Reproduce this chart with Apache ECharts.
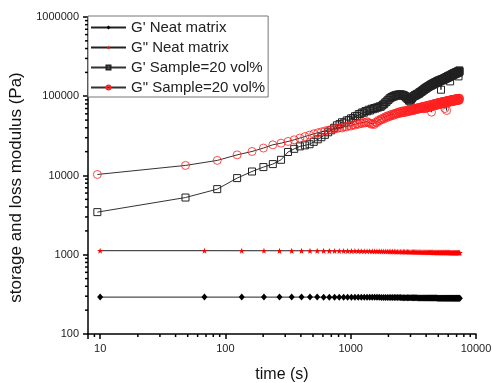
<!DOCTYPE html>
<html><head><meta charset="utf-8">
<script src="https://cdn.jsdelivr.net/npm/echarts@6/dist/echarts.min.js"></script>
<style>html,body{margin:0;padding:0;background:#fff}#c{width:493px;height:383px}</style>
</head><body><div id="c"></div>
<script>
const seriesNames = ["G' Neat matrix", 'G" Neat matrix', "G' Sample=20 vol%", 'G" Sample=20 vol%'];

const neatTime = [10,68,135,203,270,338,405,473,540,608,675,743,810,878,945,1013,1080,1148,1215,1283,1350,1418,1485,1553,1620,1688,1755,1823,1890,1958,2025,2093,2160,2228,2295,2363,2430,2498,2565,2633,2700,2768,2835,2903,2970,3038,3105,3173,3240,3308,3375,3443,3510,3578,3645,3713,3780,3848,3915,3983,4050,4118,4185,4253,4320,4388,4455,4523,4590,4658,4725,4793,4860,4928,4995,5063,5130,5198,5265,5333,5400,5468,5535,5603,5670,5738,5805,5873,5940,6008,6075,6143,6210,6278,6345,6413,6480,6548,6615,6683,6750,6818,6885,6953,7020,7088,7155,7223,7290,7358,7425];

const neatGp = [292,292,292,292,292,292,292,292,292,291,291,291,291,291,291,291,291,291,291,290,
290,290,290,290,290,290,289,289,289,289,289,289,288,288,288,288,288,288,287,287,
287,287,287,287,286,286,286,286,286,286,286,285,285,285,285,285,285,285,285,285,
284,284,284,284,284,284,284,284,284,284,284,284,284,283,283,283,283,283,283,283,
283,283,283,283,283,283,283,283,282,282,282,282,282,282,282,282,282,282,282,282,
282,282,282,282,282,282,282,282,282,282,282];

const neatGpp = [1125,1125,1124,1124,1123,1123,1122,1122,1121,1120,1119,1118,1117,1116,1115,1114,1113,1112,1111,1110,
1109,1108,1107,1106,1105,1104,1103,1102,1101,1100,1099,1098,1097,1096,1095,1094,1093,1092,1091,1090,
1089,1088,1088,1087,1086,1085,1085,1084,1083,1082,1082,1081,1080,1080,1079,1078,1078,1077,1076,1076,
1075,1075,1074,1074,1073,1073,1072,1072,1071,1071,1070,1070,1070,1069,1069,1068,1068,1068,1067,1067,
1067,1066,1066,1066,1065,1065,1065,1065,1064,1064,1064,1064,1063,1063,1063,1063,1063,1062,1062,1062,
1062,1062,1062,1062,1062,1062,1062,1062,1062,1062,1062];

const sampleTime = [9.5,48,86,124,163,201,239,278,316,354,393,431,469,507,546,584,622,661,699,737,
776,814,852,890,929,967,1005,1044,1082,1120,1159,1197,1235,1273,1312,1350,1388,1427,1465,1503,
1542,1580,1618,1656,1695,1733,1771,1810,1848,1886,1925,1963,2001,2039,2078,2116,2154,2193,2231,2269,
2308,2346,2384,2422,2461,2499,2537,2576,2614,2652,2691,2729,2767,2805,2844,2882,2920,2959,2997,3035,
3074,3112,3150,3188,3227,3265,3303,3342,3380,3418,3457,3495,3533,3571,3610,3648,3686,3725,3763,3801,
3840,3878,3916,3954,3993,4031,4069,4108,4146,4184,4223,4261,4299,4337,4376,4414,4452,4491,4529,4567,
4606,4644,4682,4720,4759,4797,4835,4874,4912,4950,4989,5027,5065,5103,5142,5180,5218,5257,5295,5333,
5372,5410,5448,5486,5525,5563,5601,5640,5678,5716,5755,5793,5831,5869,5908,5946,5984,6023,6061,6099,
6138,6176,6214,6252,6291,6329,6367,6406,6444,6482,6521,6559,6597,6635,6674,6712,6750,6789,6827,6865,
6904,6942,6980,7018,7057,7095,7133,7172,7210,7248,7287,7325,7363,7401];

const sampleGp = [3450,5270,6730,9270,11230,12770,13930,15780,19800,21700,23300,24000,24800,26600,28600,30400,32600,35100,37200,40000,
43000,44500,47000,46500,49500,50000,52500,53000,56000,56500,59500,60000,62500,62000,65000,64500,67500,66000,69500,68500,
71000,70000,72500,72000,74500,73500,76000,78500,79500,83500,84500,88500,90000,94000,94500,98000,97500,101000,99500,103000,
102000,104500,102500,105500,103500,106000,103000,105000,101500,103500,100000,100500,96000,96500,92000,92500,88000,89000,85500,91000,
94500,96000,99500,100000,102500,101500,104500,103000,107000,105500,108500,107000,112000,110500,114000,113000,117000,115500,120000,118500,
123000,121000,126000,124000,128500,126000,131000,129000,133500,131000,135500,134000,138500,135500,141000,137000,143000,139500,145000,141000,
147000,143500,149500,145000,151000,146500,153000,148500,155000,150000,157000,152000,158500,154000,160000,155500,161500,121000,163000,158000,
164000,159500,166000,161000,167500,163000,169000,164500,171000,166000,173000,168000,175000,170000,177000,171500,179000,173000,181000,175000,
183000,177000,154000,179000,186000,181000,188000,182500,190000,184000,192000,186000,193500,187500,195000,189000,197000,190500,198000,192000,
200000,193500,202000,195000,203000,196500,205000,198000,206000,178000,208000,200000,212000,205000];

const sampleGpp = [10300,13400,15500,18200,20100,22200,24400,25600,26900,28200,29700,31000,32300,33600,34600,35500,36500,37300,38000,38600,
39200,40200,39800,41300,41000,42600,42100,43700,43200,44800,44400,46000,45300,47000,46200,47800,46500,45500,44200,45000,
44000,47000,46500,49500,49000,51500,50500,53000,52000,55000,53500,56500,55000,57500,56000,59000,57000,60000,58000,61000,
59500,62000,60000,63500,61000,64000,61500,65000,62000,65500,62500,66000,63000,66500,64000,67000,64500,67500,65000,68000,
65500,69000,66000,69500,67000,70000,67500,71000,68000,71500,68500,72000,69500,72500,70000,73500,70500,74000,71000,74500,
69500,74800,70100,75400,70700,76000,71300,76600,71900,77200,72500,77800,73100,78400,73700,63000,74200,79500,74800,80100,
75300,80600,75900,81100,76400,81700,77000,82200,77500,82800,78000,83200,78400,83700,78900,84100,79400,84600,79800,85100,
80300,85500,80800,86000,81200,86400,81600,70000,82000,87200,82400,87600,66000,88000,83200,88400,83500,88700,83900,89100,
84300,89500,84700,89900,85100,90300,85500,90700,85800,91000,86200,91300,86500,91700,86800,92000,87100,92300,87500,92600,
87800,92900,88000,93100,88300,93400,88500,93600,88800,93900,89000,94100,89300,94500];

const xTickLabels = [10, 100, 1000, 10000];
const yTickLabels = [100, 1000, 10000, 100000, 1000000];
const xMinorTicks = [9,20,30,40,50,60,70,80,90,200,300,400,500,600,700,800,900,2000,3000,4000,5000,6000,7000,8000,9000];
const yMinorTicks = [200,300,400,500,600,700,800,900,2000,3000,4000,5000,6000,7000,8000,9000,
20000,30000,40000,50000,60000,70000,80000,90000,200000,300000,400000,500000,600000,700000,800000,900000];

const X_MIN = 8, X_MAX = 10000, Y_MIN = 100, Y_MAX = 1000000;
const FONT = "'Liberation Sans', Arial, sans-serif";
const zip = (xs, ys) => xs.map((x, i) => [x, ys[i]]);
const STAR = 'path://M0,-10 L2.35,-3.24 L9.51,-3.09 L3.8,1.24 L5.88,8.09 L0,4 L-5.88,8.09 L-3.8,1.24 L-9.51,-3.09 L-2.35,-3.24 Z';
const fmt = (list) => (v) => { const r = Math.round(v); return list.indexOf(r) >= 0 ? String(r) : ''; };

const chart = echarts.init(document.getElementById('c'), null, {renderer: 'canvas'});
chart.setOption({
  animation: false,
  backgroundColor: '#fff',
  grid: {left: 88, right: 17, top: 17, bottom: 49, containLabel: false, outerBoundsMode: 'none'},
  legend: {
    data: seriesNames, orient: 'vertical', left: 88, top: 16,
    itemWidth: 35, itemHeight: 5, itemGap: 5, padding: [4, 3, 2, 2],
    borderColor: '#777', borderWidth: 1, backgroundColor: '#fff',
    textStyle: {fontSize: 15, color: '#222', fontFamily: FONT}
  },
  xAxis: {
    type: 'log', logBase: 10, min: X_MIN, max: X_MAX,
    axisLine: {lineStyle: {color: '#000', width: 1.5}},
    axisTick: {length: 5, lineStyle: {color: '#000', width: 1.5}},
    axisLabel: {fontSize: 11, color: '#222', fontFamily: FONT, margin: 9, formatter: fmt(xTickLabels)},
    splitLine: {show: false},
    name: 'time (s)', nameLocation: 'middle', nameGap: 33,
    nameTextStyle: {fontSize: 16, color: '#111', fontFamily: FONT}
  },
  yAxis: {
    type: 'log', logBase: 10, min: Y_MIN, max: Y_MAX,
    axisLine: {lineStyle: {color: '#000', width: 1.5}},
    axisTick: {length: 5, lineStyle: {color: '#000', width: 1.5}},
    axisLabel: {fontSize: 11, color: '#222', fontFamily: FONT, margin: 9, formatter: fmt(yTickLabels)},
    splitLine: {show: false},
    name: 'storage and loss modulus (Pa)', nameLocation: 'middle', nameGap: 57,
    nameTextStyle: {fontSize: 17, color: '#111', fontFamily: FONT, padding: [0, 24, 0, 0]}
  },
  series: [
    {name: seriesNames[0], type: 'line', data: zip(neatTime, neatGp), symbol: 'diamond', symbolSize: [6, 7],
      itemStyle: {color: '#000'}, lineStyle: {color: '#222', width: 1}},
    {name: seriesNames[1], type: 'line', data: zip(neatTime, neatGpp), symbol: STAR, symbolSize: 6,
      itemStyle: {color: '#ff0000'}, lineStyle: {color: '#222', width: 1}},
    {name: seriesNames[2], type: 'line', data: zip(sampleTime, sampleGp), symbol: 'rect', symbolSize: 7,
      itemStyle: {color: 'rgba(255,255,255,0)', borderColor: '#222', borderWidth: 1}, lineStyle: {color: '#333', width: 1}},
    {name: seriesNames[3], type: 'line', data: zip(sampleTime, sampleGpp), symbol: 'circle', symbolSize: 8,
      itemStyle: {color: 'rgba(255,255,255,0)', borderColor: '#ff2020', borderWidth: 0.8}, lineStyle: {color: '#333', width: 1}},
    {type: 'custom', coordinateSystem: 'cartesian2d', silent: true, clip: false, z: 5,
      data: xMinorTicks.map(v => [v, Y_MIN]),
      renderItem: (p, api) => {
        const pt = api.coord([api.value(0), api.value(1)]);
        return {type: 'line', shape: {x1: pt[0], y1: pt[1], x2: pt[0], y2: pt[1] + 3}, style: {stroke: '#000', lineWidth: 1.5}};
      }},
    {type: 'custom', coordinateSystem: 'cartesian2d', silent: true, clip: false, z: 5,
      data: yMinorTicks.map(v => [X_MIN, v]),
      renderItem: (p, api) => {
        const pt = api.coord([api.value(0), api.value(1)]);
        return {type: 'line', shape: {x1: pt[0] - 3, y1: pt[1], x2: pt[0], y2: pt[1]}, style: {stroke: '#000', lineWidth: 1.5}};
      }}
  ]
});
</script></body></html>
